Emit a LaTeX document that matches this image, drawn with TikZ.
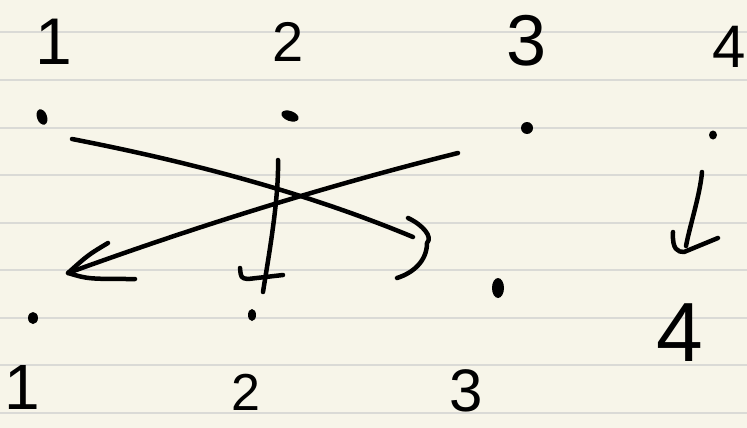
\documentclass[tikz,border=0pt]{standalone}
\usepackage{fontspec}
\setmainfont{Liberation Sans}
\definecolor{paper}{RGB}{247,245,233}
\definecolor{ruleline}{RGB}{218,218,214}
\begin{document}
\begin{tikzpicture}[x=1pt,y=-1pt,
  ink/.style={line width=4.5pt, line cap=round, line join=round, black},
  num/.style={inner sep=0pt, anchor=center, text=black}]
\fill[paper] (0,0) rectangle (747,428);
\useasboundingbox (0,0) rectangle (747,428);
\foreach \yy in {32,80,127.5,175,222.5,270,317.5,365,412.5}
  \draw[ruleline, line width=2pt] (0,\yy) -- (747,\yy);

% labels, top row
\node[num, font=\fontsize{66}{66}\selectfont] (n1) at (54,42) {1};
\node[num, font=\fontsize{56}{56}\selectfont] (n2) at (288,42) {2};
\node[num, font=\fontsize{72}{72}\selectfont] (n3) at (527,41) {3};
\node[num, font=\fontsize{60}{60}\selectfont] (n4) at (729,47) {4};
% labels, bottom row
\node[num, font=\fontsize{64}{64}\selectfont] (m1) at (22,387) {1};
\node[num, font=\fontsize{52}{52}\selectfont] (m2) at (246,392) {2};
\node[num, font=\fontsize{60}{60}\selectfont] (m3) at (466,391) {3};
\node[num, font=\fontsize{84}{84}\selectfont] (m4) at (680,333) {4};

% dots
\coordinate (t1) at (42,117);
\coordinate (t2) at (290,116);
\coordinate (t3) at (527,128);
\coordinate (t4) at (713,135);
\coordinate (b1) at (33,318);
\coordinate (b2) at (252,315);
\coordinate (b3) at (498,288);
\fill[black, rotate around={20:(t1)}] (t1) ellipse [x radius=5, y radius=8];
\fill[black, rotate around={-20:(t2)}] (t2) ellipse [x radius=9, y radius=5];
\fill[black] (t3) ellipse [x radius=6, y radius=6];
\fill[black] (t4) ellipse [x radius=4, y radius=4.5];
\fill[black] (b1) ellipse [x radius=5, y radius=6];
\fill[black] (b2) ellipse [x radius=4, y radius=6];
\fill[black] (b3) ellipse [x radius=6, y radius=10];

% connector 1 -> 3
\coordinate (a1s) at (72,139);
\coordinate (a1e) at (413,237);
\draw[ink] (a1s) .. controls (180,160) and (300,190) .. (a1e);
\draw[ink] ([shift={(-5,-19)}]a1e) .. controls ([shift={(10,-12)}]a1e) and ([shift={(20,0)}]a1e) .. ([shift={(14,6)}]a1e)
  .. controls ([shift={(14,24)}]a1e) and ([shift={(0,36)}]a1e) .. ([shift={(-16,41)}]a1e);

% connector 3 -> 1
\coordinate (a2s) at (458,153);
\coordinate (a2e) at (68,273);
\draw[ink] (a2s) .. controls (330,185) and (200,225) .. (a2e);
\draw[ink] ([shift={(40,-30)}]a2e) .. controls ([shift={(20,-18)}]a2e) .. (a2e) .. controls ([shift={(20,6)}]a2e) .. ([shift={(67,6)}]a2e);

% connector 2 -> 2
\coordinate (a3s) at (278,160);
\coordinate (a3e) at (263,292);
\draw[ink] (a3s) .. controls (279,200) and (268,260) .. (a3e);
\draw[ink] ([shift={(-23,-24)}]a3e) .. controls ([shift={(-22,-14)}]a3e) .. ([shift={(-15,-13)}]a3e) -- ([shift={(20,-17)}]a3e);

% connector 4 -> 4
\coordinate (a4s) at (702,172);
\coordinate (a4e) at (686,246);
\draw[ink] (a4s) .. controls (700,195) and (690,225) .. (a4e);
\draw[ink] ([shift={(-13,-14)}]a4e) .. controls ([shift={(-14,4)}]a4e) and ([shift={(-8,6)}]a4e) .. ([shift={(-2,6)}]a4e) -- ([shift={(32,-8)}]a4e);
\end{tikzpicture}
\end{document}
